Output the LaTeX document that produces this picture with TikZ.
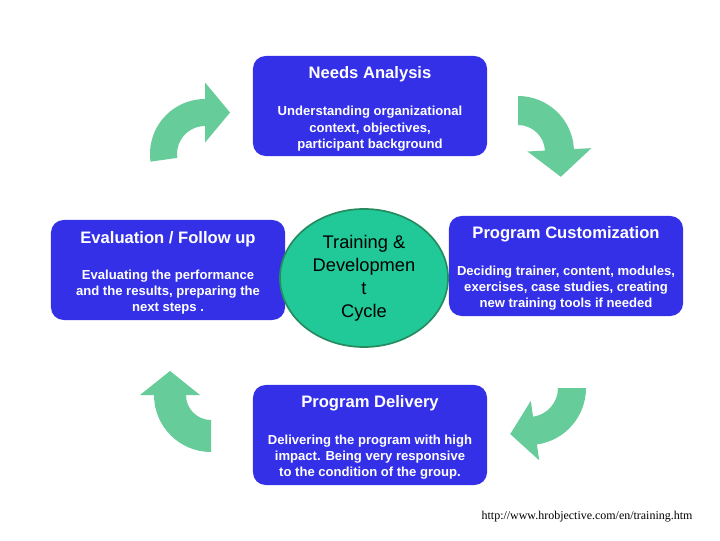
\documentclass[tikz,border=0pt]{standalone}
\usepackage{fontspec}
\setmainfont{Liberation Sans}
\newfontfamily\urlfont{Liberation Serif}
\usepackage{tikz}
\usetikzlibrary{shapes.geometric,positioning}
\definecolor{boxblue}{RGB}{52,48,232}
\definecolor{arrowgreen}{RGB}{102,204,153}
\definecolor{cyclefill}{RGB}{32,201,151}
\definecolor{cycleedge}{RGB}{38,140,95}
\tikzstyle{stagebox} = [rectangle, fill=boxblue, rounded corners=9pt,
    minimum width=5.85cm, minimum height=2.5cm]
\tikzstyle{stagetitle} = [text=white, font=\bfseries\fontsize{11.8}{14}\selectfont]
\tikzstyle{stagetext} = [text=white, align=center,
    font=\bfseries\fontsize{9.3}{11.5}\selectfont]
\tikzstyle{cyclenode} = [ellipse, fill=cyclefill, draw=cycleedge, line width=1.2pt,
    minimum width=4.2cm, minimum height=3.45cm, inner sep=0pt, align=center,
    font=\fontsize{13}{16.3}\selectfont]
\tikzstyle{turnarrow} = [fill=arrowgreen]
% curved arrow: centre x, centre y, start angle, end angle, inner r, outer r, head half width, head length
\newcommand{\cyclearrow}[8]{%
  \begin{scope}[shift={(#1,#2)}]
  \fill[turnarrow] (#3:#6) arc[start angle=#3, end angle=#4, radius=#6]
    -- ({#4}:{(#5+#6)/2+#7})
    -- ({#4-atan(#8/((#5+#6)/2))}:{sqrt(((#5+#6)/2)^2+#8^2)})
    -- ({#4}:{(#5+#6)/2-#7})
    -- (#4:#5) arc[start angle=#4, end angle=#3, radius=#5] -- cycle;
  \end{scope}}

\begin{document}
\begin{tikzpicture}[x=0.025cm, y=0.025cm]
\fill[white] (0,0) rectangle (720,540);
\useasboundingbox (0,0) rectangle (720,540);

% the four stages
\node[stagebox] (needs) at (370,434) {};
\node[stagebox] (custom) at (566,274) {};
\node[stagebox] (deliv) at (370,105) {};
\node[stagebox] (eval) at (168,270) {};

\node[stagetitle] (needst) at ([yshift=0.79cm]needs.center) {Needs Analysis};
\node[stagetext] (needsb) at ([yshift=-0.57cm]needs.center)
  {Understanding organizational\\context, objectives,\\participant background};
\node[stagetitle] (customt) at ([yshift=0.79cm]custom.center) {Program Customization};
\node[stagetext] (customb) at ([yshift=-0.55cm]custom.center)
  {Deciding trainer, content, modules,\\exercises, case studies, creating\\new training tools if needed};
\node[stagetitle] (delivt) at ([yshift=0.79cm]deliv.center) {Program Delivery};
\node[stagetext] (delivb) at ([yshift=-0.55cm]deliv.center)
  {Delivering the program with high\\impact. Being very responsive\\to the condition of the group.};
\node[stagetitle] (evalt) at ([yshift=0.77cm]eval.center) {Evaluation / Follow up};
\node[stagetext] (evalb) at ([yshift=-0.55cm]eval.center)
  {Evaluating the performance\\and the results, preparing the\\next steps .};

% centre
\node[cyclenode] (cycle) at (364,262) {Training \&\\Developmen\\t\\Cycle};

% arrows between the stages
\cyclearrow{205}{386}{188}{90}{28}{55}{30}{25}
\cyclearrow{518}{388}{90}{3}{27}{56}{32}{27}
\cyclearrow{529}{152}{0}{-82}{29}{57}{30}{25}
\cyclearrow{211}{145}{-90}{-180}{25}{57}{30}{24}

\node[font=\urlfont\fontsize{8.5}{10}\selectfont] (src) at (587,23)
  {http://www.hrobjective.com/en/training.htm};
\end{tikzpicture}
\end{document}
